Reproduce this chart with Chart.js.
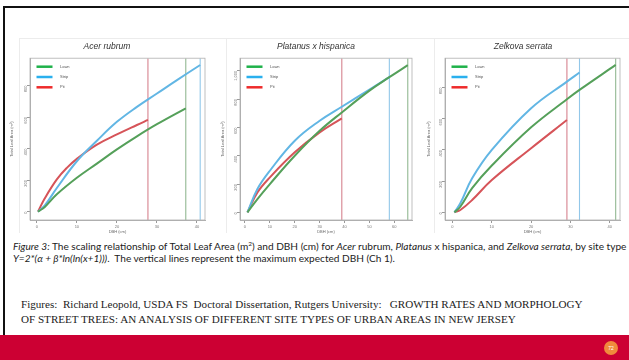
<!DOCTYPE html>
<html>
<head>
<meta charset="utf-8">
<script src="https://cdn.jsdelivr.net/npm/chart.js@4"></script>
<style>
  html, body { margin: 0; padding: 0; width: 629px; height: 360px; overflow: hidden; background: #fff; font-family: "Liberation Sans", sans-serif; }
  .frame-top { position: absolute; left: 3px; top: 6px; width: 640px; height: 2px; background: #111; }
  .frame-left { position: absolute; left: 3px; top: 6px; width: 2px; height: 340px; background: #111; }
  .panel-line { position: absolute; background: #ececec; }
  canvas { position: absolute; }
  .caption { position: absolute; left: 13px; top: 240px; font-family: Lato, sans-serif; font-size: 10.1px; line-height: 12px; color: #222; white-space: nowrap; }
  .caption sup { font-size: 6.5px; line-height: 0; }
  .credit { position: absolute; left: 21px; top: 297px; font-family: "Liberation Serif", serif; font-size: 11.1px; line-height: 14.5px; color: #222; white-space: pre; }
  .band { position: absolute; left: 0; top: 335px; width: 629px; height: 25px; background: #cc0033; }
  .page { position: absolute; left: 604px; top: 341px; width: 14px; height: 14px; border-radius: 50%; background: #f08a3c; color: #fff; font-size: 5px; line-height: 14px; text-align: center; }
</style>
</head>
<body>
<div class="frame-top"></div>
<div class="frame-left"></div>
<div class="panel-line" style="left:19px;top:38px;width:1px;height:195px"></div>
<div class="panel-line" style="left:226px;top:38px;width:1px;height:195px"></div>
<div class="panel-line" style="left:434px;top:38px;width:1px;height:195px"></div>
<div class="panel-line" style="left:19px;top:38px;width:610px;height:1px"></div>

<canvas id="acer" width="207" height="196" style="left:0px;top:38px"></canvas>
<canvas id="platanus" width="200" height="196" style="left:218px;top:38px"></canvas>
<canvas id="zelkova" width="213" height="196" style="left:425px;top:38px"></canvas>

<div class="caption"><i>Figure 3:</i> The scaling relationship of Total Leaf Area (m<sup>2</sup>) and DBH (cm) for <i>Acer</i> rubrum, <i>Platanus</i> x hispanica, and <i>Zelkova serrata</i>, by site type<br><i>Y=2*(α + β*ln(ln(x+1)))</i>.&nbsp; The vertical lines represent the maximum expected DBH (Ch 1).</div>
<div class="credit">Figures:  Richard Leopold, USDA FS  Doctoral Dissertation, Rutgers University:   GROWTH RATES AND MORPHOLOGY
OF STREET TREES: AN ANALYSIS OF DIFFERENT SITE TYPES OF URBAN AREAS IN NEW JERSEY</div>
<div class="band"></div>
<div class="page">72</div>

<script>
const siteTypes = ['Lawn', 'Strip', 'Pit'];
const curveColors = ['#55a05a', '#62b6e4', '#d65459'];
const legendColors = ['#1fb24a', '#2ab0ee', '#ee2b2b'];
const maxLineColors = ['rgba(110,160,110,0.75)', 'rgba(110,180,225,0.75)', 'rgba(200,90,105,0.75)'];

// Acer rubrum
const acerLawnDbh = [0.3, 2, 5, 10, 15, 20, 25, 30, 37.2];
const acerLawnArea = [0, 30, 110, 215, 305, 395, 478, 555, 656];
const acerStripDbh = [0.3, 2, 5, 10, 15, 20, 25, 30, 35, 40.8];
const acerStripArea = [0, 40, 150, 320, 450, 570, 665, 750, 835, 931];
const acerPitDbh = [0.3, 2, 5, 7.5, 10, 15, 20, 25, 27.75];
const acerPitArea = [0, 85, 205, 278, 335, 425, 490, 550, 582];
const acerMaxDbh = [37.2, 40.8, 27.75];
const acerXTicks = [0, 10, 20, 30, 40];
const acerYTicks = [0, 200, 400, 600, 800];

// Platanus x hispanica
const platLawnDbh = [1, 5, 10, 20, 30, 38.9, 50, 58, 65.4];
const platLawnArea = [0, 94, 200, 400, 576, 706, 860, 955, 1040];
const platStripDbh = [1, 5, 10, 20, 30, 38.9, 50, 58];
const platStripArea = [0, 165, 294, 506, 647, 746, 868, 955];
const platPitDbh = [1, 5, 10, 20, 30, 38.9];
const platPitArea = [0, 141, 247, 424, 565, 664];
const platMaxDbh = [65.4, 58, 38.9];
const platXTicks = [0, 10, 20, 30, 40, 50, 60];
const platYTicks = [0, 200, 400, 600, 800, 1000];

// Zelkova serrata
const zelkLawnDbh = [0.5, 2, 5, 10, 20, 29.1, 32.3, 41.5];
const zelkLawnArea = [0, 36, 155, 300, 545, 725, 785, 945];
const zelkStripDbh = [0.5, 2, 5, 10, 20, 29.1, 32.3];
const zelkStripArea = [0, 58, 218, 400, 667, 838, 896];
const zelkPitDbh = [0.5, 2, 5, 10, 20, 29.1];
const zelkPitArea = [0, 15, 79, 207, 411, 592];
const zelkMaxDbh = [41.5, 32.3, 29.1];
const zelkXTicks = [0, 10, 20, 30, 40];
const zelkYTicks = [0, 200, 400, 600, 800];

const insideLegend = {
  id: 'insideLegend',
  afterDatasetsDraw(chart) {
    const { ctx, chartArea } = chart;
    ctx.save();
    ctx.font = '4px "Liberation Sans"';
    ctx.textBaseline = 'middle';
    chart.data.datasets.filter(d => d.legendColor).forEach((d, i) => {
      const y = chartArea.top + 8.5 + i * 10.3;
      ctx.strokeStyle = d.legendColor;
      ctx.lineWidth = 2.5;
      ctx.beginPath();
      ctx.moveTo(chartArea.left + 6.5, y);
      ctx.lineTo(chartArea.left + 22.5, y);
      ctx.stroke();
      ctx.fillStyle = '#555';
      ctx.fillText(d.label, chartArea.left + 30, y);
    });
    ctx.restore();
  }
};

const plotFrame = {
  id: 'plotFrame',
  afterDraw(chart) {
    const { ctx, chartArea: a } = chart;
    ctx.save();
    ctx.strokeStyle = '#b0b0b0';
    ctx.lineWidth = 0.8;
    ctx.strokeRect(a.left, a.top, a.right - a.left, a.bottom - a.top);
    ctx.restore();
  }
};

function makeChart(id, title, series, maxDbh, xRange, yRange, xTicks, yTicks, pad, yWidth) {
  const datasets = [];
  series.forEach(([dbh, area], i) => {
    datasets.push({
      label: siteTypes[i],
      legendColor: legendColors[i],
      data: dbh.map((x, k) => ({ x, y: area[k] })),
      borderColor: curveColors[i],
      borderWidth: 2,
      pointRadius: 0,
      tension: 0.4
    });
  });
  maxDbh.forEach((m, i) => {
    datasets.push({
      label: siteTypes[i] + ' max',
      data: [{ x: m, y: yRange[0] }, { x: m, y: yRange[1] }],
      borderColor: maxLineColors[i],
      borderWidth: 1.1,
      pointRadius: 0
    });
  });

  const tickFont = { size: 4, family: 'Liberation Sans' };
  new Chart(document.getElementById(id), {
    type: 'line',
    data: { datasets },
    options: {
      responsive: false,
      animation: false,
      devicePixelRatio: 1,
      layout: { padding: pad },
      plugins: {
        legend: { display: false },
        tooltip: { enabled: false },
        title: {
          display: true,
          text: title,
          color: '#333',
          font: { size: 8.5, style: 'italic', family: 'Liberation Sans', weight: 'normal' },
          padding: { top: 4, bottom: 6 }
        }
      },
      scales: {
        x: {
          type: 'linear',
          min: xRange[0],
          max: xRange[1],
          afterBuildTicks: a => { a.ticks = xTicks.map(v => ({ value: v })); },
          afterFit: s => { s.height = 14; },
          ticks: { font: tickFont, color: '#777', padding: 1, maxRotation: 0 },
          grid: { drawOnChartArea: false, tickLength: 3, color: '#999' },
          border: { color: '#b0b0b0' },
          title: { display: true, text: 'DBH (cm)', font: tickFont, color: '#666', padding: { top: 1, bottom: 0 } }
        },
        y: {
          min: yRange[0],
          max: yRange[1],
          afterBuildTicks: a => { a.ticks = yTicks.map(v => ({ value: v })); },
          afterFit: s => { s.width = yWidth; },
          ticks: { font: tickFont, color: '#777', padding: 1, minRotation: 90, maxRotation: 90 },
          grid: { drawOnChartArea: false, tickLength: 3, color: '#999' },
          border: { color: '#b0b0b0' },
          title: { display: true, text: 'Total Leaf Area (m²)', font: tickFont, color: '#666', padding: { top: 0, bottom: 0 } }
        }
      }
    },
    plugins: [insideLegend, plotFrame]
  });
}

makeChart('acer', 'Acer rubrum',
  [[acerLawnDbh, acerLawnArea], [acerStripDbh, acerStripArea], [acerPitDbh, acerPitArea]],
  acerMaxDbh, [-1.7, 42], [-53, 974], acerXTicks, acerYTicks,
  { left: 9, right: 2, top: 0, bottom: 0 }, 21);

makeChart('platanus', 'Platanus x hispanica',
  [[platLawnDbh, platLawnArea], [platStripDbh, platStripArea], [platPitDbh, platPitArea]],
  platMaxDbh, [-2, 67.1], [-54, 1089], platXTicks, platYTicks,
  { left: 2, right: 6, top: 0, bottom: 0 }, 20);

makeChart('zelkova', 'Zelkova serrata',
  [[zelkLawnDbh, zelkLawnArea], [zelkStripDbh, zelkStripArea], [zelkPitDbh, zelkPitArea]],
  zelkMaxDbh, [-1.9, 42.6], [-49, 988], zelkXTicks, zelkYTicks,
  { left: 1, right: 18, top: 0, bottom: 0 }, 19);
</script>
</body>
</html>
